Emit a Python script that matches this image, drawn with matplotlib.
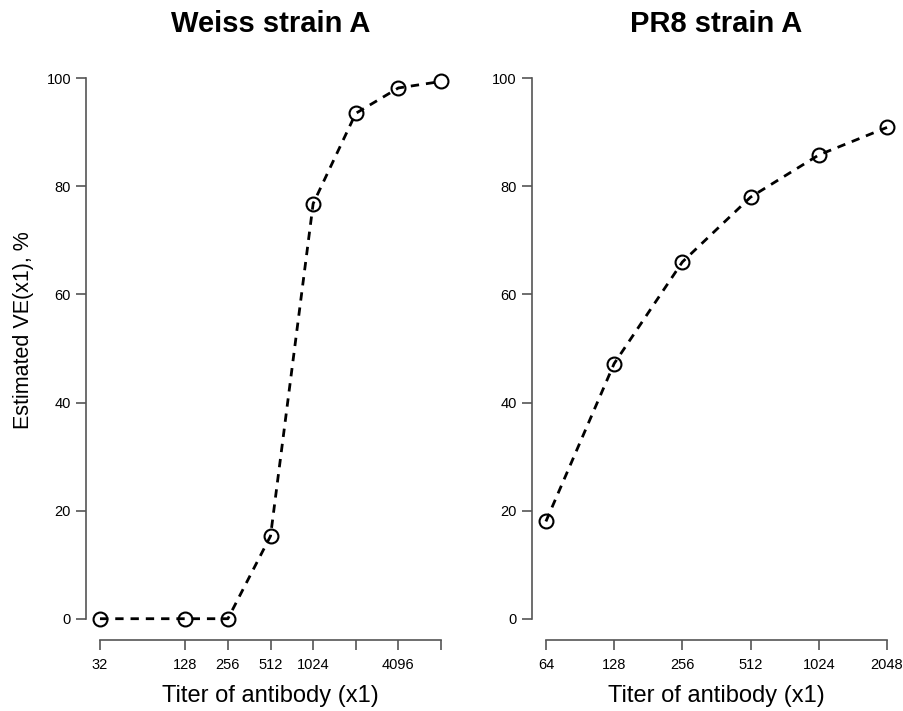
import matplotlib.pyplot as plt
import numpy as np

plt.rcParams['font.family'] = ['Liberation Sans', 'DejaVu Sans']

# left panel: Weiss strain A
weiss_x = [32, 128, 256, 512, 1024, 2048, 4096, 8192]
weiss_ve = [0, 0, 0, 15.3, 76.8, 93.5, 98.2, 99.4]
weiss_ticks = [32, 128, 256, 512, 1024, 2048, 4096, 8192]
weiss_labels = ['32', '128', '256', '512', '1024', '', '4096', '']

# right panel: PR8 strain A
pr8_x = [64, 128, 256, 512, 1024, 2048]
pr8_ve = [18.0, 47.2, 66.0, 78.0, 85.8, 90.9]
pr8_ticks = [64, 128, 256, 512, 1024, 2048]
pr8_labels = ['64', '128', '256', '512', '1024', '2048']

y_ticks = [0, 20, 40, 60, 80, 100]

fig = plt.figure(figsize=(9.04, 7.11), dpi=100)
ax1 = fig.add_axes([0.0955, 0.0994, 0.4075, 0.821])
ax2 = fig.add_axes([0.5888, 0.0994, 0.4075, 0.821])


def draw(ax, x, y, ticks, labels, title):
    ax.plot(np.log2(x), y, color='black', lw=2, linestyle=(0, (3, 2.5)),
            marker='o', markersize=10, markerfacecolor='none',
            markeredgecolor='black', markeredgewidth=1.5)
    lx = np.log2(ticks)
    pad = (lx[-1] - lx[0]) * 0.04
    ax.set_xlim(lx[0] - pad, lx[-1] + pad)
    ax.set_ylim(-4, 104)
    ax.set_xticks(lx)
    ax.set_xticklabels(labels)
    ax.set_yticks(y_ticks)
    for s in ['top', 'right']:
        ax.spines[s].set_visible(False)
    ax.spines['left'].set_bounds(0, 100)
    ax.spines['bottom'].set_bounds(lx[0], lx[-1])
    for s in ['left', 'bottom']:
        ax.spines[s].set_color('#555555')
        ax.spines[s].set_linewidth(1.2)
    ax.tick_params(axis='both', length=7, width=1.2, color='#555555',
                   labelsize=10.5)
    ax.tick_params(axis='x', pad=6)
    ax.tick_params(axis='y', pad=4)
    ax.set_xlabel('Titer of antibody (x1)', fontsize=17, labelpad=9)
    ax.set_title(title, fontsize=21, fontweight='bold', pad=18)


draw(ax1, weiss_x, weiss_ve, weiss_ticks, weiss_labels, 'Weiss strain A')
draw(ax2, pr8_x, pr8_ve, pr8_ticks, pr8_labels, 'PR8 strain A')
ax1.set_ylabel('Estimated VE(x1), %', fontsize=15.5)
ax1.yaxis.set_label_coords(-0.142, 0.532)

plt.savefig('out.png', dpi=100)
